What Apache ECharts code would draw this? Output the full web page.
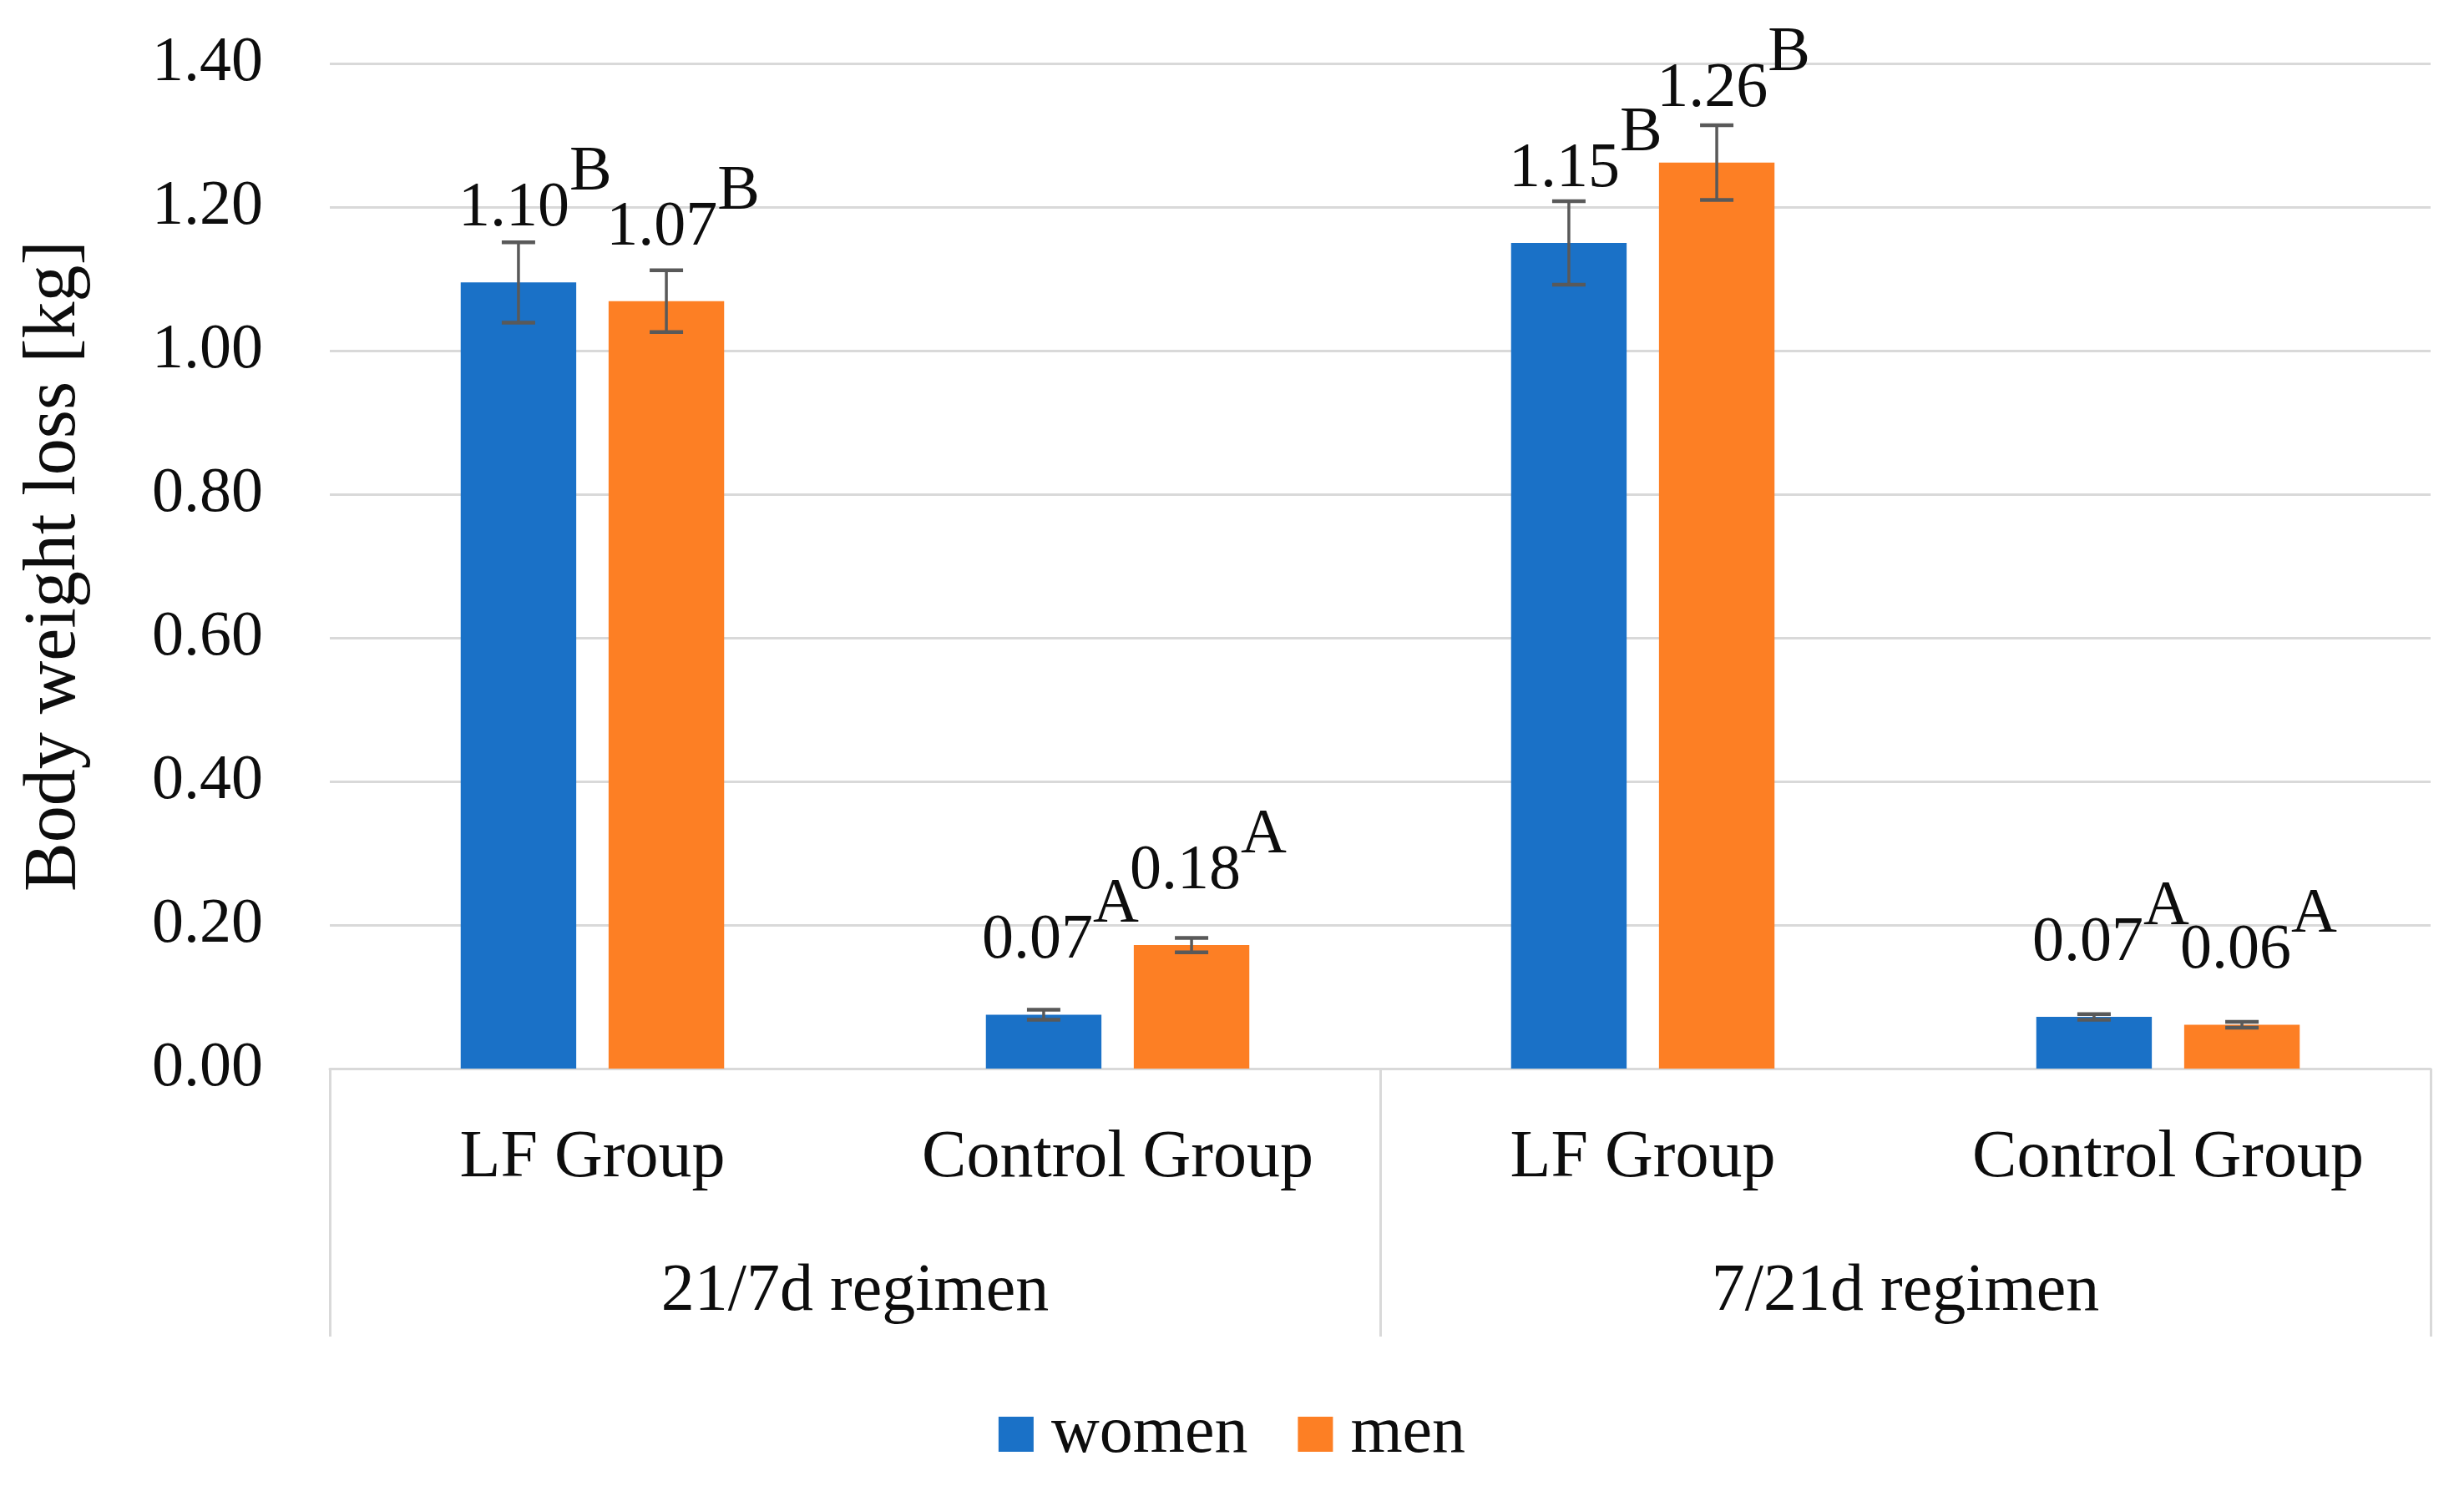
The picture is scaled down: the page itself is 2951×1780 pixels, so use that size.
<!DOCTYPE html>
<html><head><meta charset="utf-8">
<script src="https://cdn.jsdelivr.net/npm/echarts@6/dist/echarts.min.js"></script>
<style>html,body{margin:0;padding:0;background:#fff}#c{width:2951px;height:1780px}</style>
</head><body><div id="c"></div>
<script>
const groups = ['LF Group', 'Control Group', 'LF Group', 'Control Group'];
const regimens = ['21/7d regimen', '7/21d regimen'];
const seriesNames = ['women', 'men'];
const womenMean = [1.095, 0.075, 1.150, 0.072];
const menMean = [1.069, 0.172, 1.262, 0.061];
const womenErr = [0.056, 0.007, 0.058, 0.004];
const menErr = [0.043, 0.010, 0.052, 0.004];
const womenLabel = ['1.10', '0.07', '1.15', '0.07'];
const menLabel = ['1.07', '0.18', '1.26', '0.06'];
const womenLetter = ['B', 'A', 'B', 'A'];
const menLetter = ['B', 'A', 'B', 'A'];
const yMin = 0, yMax = 1.4, yStep = 0.2;

const F = "'Liberation Serif', 'Times New Roman', serif";
const TXT = '#0d0d0d';
const GRID = '#d9d9d9';
const FS = 76;
const FS_CAT = 80;
const BAR_W = 0.22, BAR_GAP = 0.28;
const half = (BAR_W * 2 + BAR_W * BAR_GAP) / 2;
const womenOff = -half + BAR_W / 2, menOff = half - BAR_W / 2;

function errRender(off) {
  return function (params, api) {
    const x = api.value(0), lo = api.value(1), hi = api.value(2);
    const pLo = api.coord([x, lo]), pHi = api.coord([x, hi]);
    const bw = api.size([1, 0])[0];
    const cx = pLo[0] + off * bw;
    const cap = 20;
    const stem = { stroke: '#595959', lineWidth: 3.5 };
    const capStyle = { stroke: '#595959', lineWidth: 4.5 };
    return { type: 'group', children: [
      { type: 'line', shape: { x1: cx, y1: pHi[1], x2: cx, y2: pLo[1] }, style: stem },
      { type: 'line', shape: { x1: cx - cap, y1: pHi[1], x2: cx + cap, y2: pHi[1] }, style: capStyle },
      { type: 'line', shape: { x1: cx - cap, y1: pLo[1], x2: cx + cap, y2: pLo[1] }, style: capStyle }
    ] };
  };
}
function labelCfg(nums, letters) {
  return {
    show: true, position: 'top', distance: 50, offset: [20, 0],
    formatter: p => '{v|' + nums[p.dataIndex] + '}{s|' + letters[p.dataIndex] + '}',
    rich: {
      v: { fontSize: FS, fontFamily: F, color: TXT, lineHeight: FS, verticalAlign: 'bottom' },
      s: { fontSize: FS, fontFamily: F, color: TXT, lineHeight: FS, verticalAlign: 'bottom', padding: [0, 0, 43, 0] }
    }
  };
}
const chart = echarts.init(document.getElementById('c'));
chart.setOption({
  backgroundColor: '#fff',
  animation: false,
  grid: { left: 395, right: 40, top: 76, bottom: 500, containLabel: false },
  legend: {
    data: seriesNames, top: 1673, left: 'center', icon: 'rect', itemWidth: 42, itemHeight: 42, itemGap: 60,
    textStyle: { fontSize: FS_CAT, fontFamily: F, color: TXT, padding: [0, 0, 0, 16] }
  },
  xAxis: [
    { type: 'category', data: groups, position: 'bottom',
      axisLine: { show: true, lineStyle: { color: GRID, width: 3 } },
      axisTick: { show: false },
      axisLabel: { interval: 0, margin: 68, fontSize: FS_CAT, fontFamily: F, color: TXT, lineHeight: FS_CAT } },
    { type: 'category', data: regimens, position: 'bottom',
      axisLine: { show: false },
      axisTick: { show: true, length: 321, lineStyle: { color: GRID, width: 3 } },
      axisLabel: { interval: 0, margin: 228, fontSize: FS_CAT, fontFamily: F, color: TXT, lineHeight: FS_CAT },
      splitLine: { show: false } }
  ],
  yAxis: {
    type: 'value', min: yMin, max: yMax, interval: yStep,
    name: 'Body weight loss [kg]', nameLocation: 'middle', nameGap: 285,
    nameTextStyle: { fontSize: 88, fontFamily: F, color: TXT, lineHeight: 88 },
    axisLine: { show: false }, axisTick: { show: false },
    axisLabel: { margin: 80, fontSize: FS, fontFamily: F, color: TXT, formatter: v => v.toFixed(2) },
    splitLine: { lineStyle: { color: GRID, width: 3 } }
  },
  series: [
    { name: 'women', type: 'bar', xAxisIndex: 0, data: womenMean, barWidth: (BAR_W * 100) + '%', barGap: (BAR_GAP * 100) + '%',
      itemStyle: { color: '#1a71c7' }, label: labelCfg(womenLabel, womenLetter) },
    { name: 'men', type: 'bar', xAxisIndex: 0, data: menMean, barWidth: (BAR_W * 100) + '%', barGap: (BAR_GAP * 100) + '%',
      itemStyle: { color: '#fd7f24' }, label: labelCfg(menLabel, menLetter) },
    { name: 'women error', type: 'custom', xAxisIndex: 0, z: 5, renderItem: errRender(womenOff),
      encode: { x: 0, y: [1, 2] },
      data: womenMean.map((m, i) => [i, m - womenErr[i], m + womenErr[i]]) },
    { name: 'men error', type: 'custom', xAxisIndex: 0, z: 5, renderItem: errRender(menOff),
      encode: { x: 0, y: [1, 2] },
      data: menMean.map((m, i) => [i, m - menErr[i], m + menErr[i]]) }
  ]
});
</script></body></html>
